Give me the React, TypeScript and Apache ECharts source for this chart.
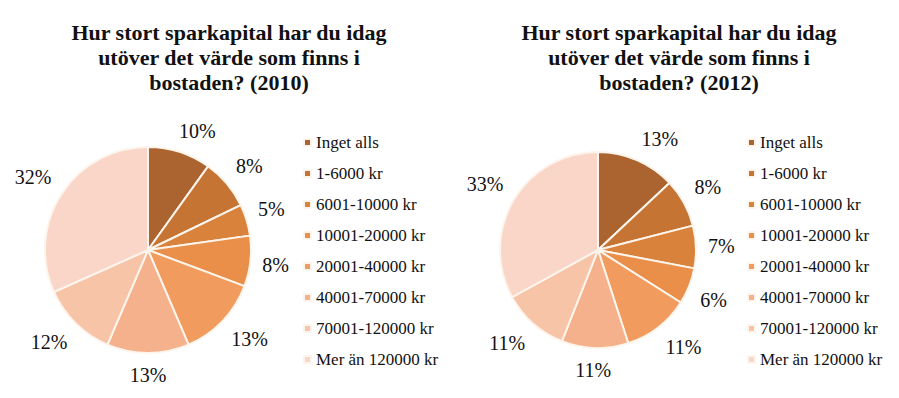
import React, { useEffect, useRef } from "react";
import * as echarts from "echarts";

const categories = [
  "Inget alls",
  "1-6000 kr",
  "6001-10000 kr",
  "10001-20000 kr",
  "20001-40000 kr",
  "40001-70000 kr",
  "70001-120000 kr",
  "Mer än 120000 kr",
];
const values2010 = [10, 8, 5, 8, 13, 13, 12, 32];
const values2012 = [13, 8, 7, 6, 11, 11, 11, 33];
const sliceColors = [
  "#ab6430",
  "#c57434",
  "#d8823c",
  "#e98f49",
  "#f19c5e",
  "#f4b18c",
  "#f7c4a8",
  "#f9d6c7",
];
const title2010 = "Hur stort sparkapital har du idag\nutöver det värde som finns i\nbostaden? (2010)";
const title2012 = "Hur stort sparkapital har du idag\nutöver det värde som finns i\nbostaden? (2012)";

const FONT = '"Liberation Serif", "Times New Roman", serif';

function clamp(t: number) {
  return Math.max(-1, Math.min(1, t));
}

function makeLabelLayout(values: number[], cx: number, cy: number, r: number) {
  const total = values.reduce((a, b) => a + b, 0);
  return (params: any) => {
    const i = params.dataIndex;
    let before = 0;
    for (let k = 0; k < i; k++) before += values[k];
    const mid = ((before + values[i] / 2) / total) * Math.PI * 2;
    const ux = Math.sin(mid);
    const uy = -Math.cos(mid);
    const w = params.labelRect.width;
    const h = params.labelRect.height;
    const d = r + 12;
    return {
      x: cx + ux * d + (clamp(ux * 2.5) * w) / 2,
      y: cy + uy * d + (clamp(uy * 2.5) * h) / 2,
      align: "center",
      verticalAlign: "middle",
    };
  };
}

function pieSeries(values: number[], cx: number, cy: number, r: number) {
  return {
    type: "pie",
    center: [cx, cy],
    radius: r,
    startAngle: 90,
    clockwise: true,
    avoidLabelOverlap: false,
    data: categories.map((name, i) => ({
      name,
      value: values[i],
      itemStyle: { color: sliceColors[i] },
    })),
    itemStyle: { borderColor: "#fdf4ec", borderWidth: 2 },
    label: {
      show: true,
      position: "outside",
      formatter: (p: any) => `${p.value}%`,
      fontFamily: FONT,
      fontSize: 20,
      color: "#111",
    },
    labelLine: { show: false },
    labelLayout: makeLabelLayout(values, cx, cy, r),
    emphasis: { disabled: true },
  };
}

function legend(left: number) {
  return {
    orient: "vertical",
    left,
    top: 134,
    padding: 0,
    itemWidth: 7,
    itemHeight: 7,
    itemGap: 14,
    icon: "rect",
    selectedMode: false,
    data: categories,
    textStyle: { fontFamily: FONT, fontSize: 17, lineHeight: 17, color: "#111" },
  };
}

function title(text: string, left: number) {
  return {
    text,
    left,
    top: 20,
    padding: 0,
    textAlign: "center",
    textStyle: {
      fontFamily: FONT,
      fontSize: 22,
      lineHeight: 25,
      fontWeight: "bold",
      color: "#111",
    },
  };
}

export default function App() {
  const ref = useRef<HTMLDivElement>(null);
  useEffect(() => {
    if (!ref.current) return;
    const chart = echarts.init(ref.current, undefined, { renderer: "svg" });
    chart.setOption({
      animation: false,
      backgroundColor: "#ffffff",
      title: [title(title2010, 229), title(title2012, 679)],
      legend: [legend(303), legend(747)],
      series: [pieSeries(values2010, 148, 250, 103), pieSeries(values2012, 598, 250, 98)],
    });
    return () => chart.dispose();
  }, []);
  return (
    <div
      ref={ref}
      style={{ position: "fixed", left: 0, top: 0, width: 899, height: 398 }}
    />
  );
}
